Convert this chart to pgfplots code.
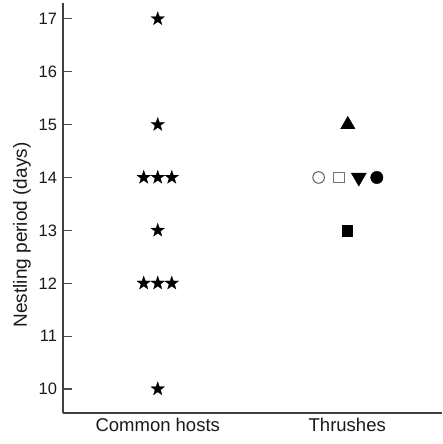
\documentclass[border=0pt]{standalone}
\usepackage{fontspec}
\setmainfont{Liberation Sans}
\usepackage{pgfplots}
\pgfplotsset{compat=1.18}
\pgfdeclareplotmark{fstar}{%
  \pgfpathmoveto{\pgfpointpolar{90}{\pgfplotmarksize}}%
  \pgfpathlineto{\pgfpointpolar{126}{0.40\pgfplotmarksize}}%
  \pgfpathlineto{\pgfpointpolar{162}{\pgfplotmarksize}}%
  \pgfpathlineto{\pgfpointpolar{198}{0.40\pgfplotmarksize}}%
  \pgfpathlineto{\pgfpointpolar{234}{\pgfplotmarksize}}%
  \pgfpathlineto{\pgfpointpolar{270}{0.40\pgfplotmarksize}}%
  \pgfpathlineto{\pgfpointpolar{306}{\pgfplotmarksize}}%
  \pgfpathlineto{\pgfpointpolar{342}{0.40\pgfplotmarksize}}%
  \pgfpathlineto{\pgfpointpolar{18}{\pgfplotmarksize}}%
  \pgfpathlineto{\pgfpointpolar{54}{0.40\pgfplotmarksize}}%
  \pgfpathclose
  \pgfusepathqfillstroke}
\begin{document}
\begin{tikzpicture}
\useasboundingbox (-63pt,-31pt) rectangle (379pt,413pt);
\begin{axis}[
  scale only axis,
  width=379pt, height=410pt,
  at={(0,0)}, anchor=south west,
  xmin=0.5, xmax=2.5,
  ymin=9.546, ymax=17.30,
  axis x line=bottom, axis y line=left,
  axis line style={-, line width=1.3pt, black!75},
  xtick={1,2}, xticklabels={Common hosts, Thrushes},
  ytick={10,11,12,13,14,15,16,17},
  major x tick style={draw=none},
  major y tick style={line width=1.1pt, black!70},
  tick align=inside,
  major tick length=9pt,
  /pgf/number format/assume math mode=true,
  yticklabel style={font=\fontsize{16.5}{18}\selectfont, text=black!90, xshift=-2.5pt},
  xticklabel style={font=\fontsize{18.5}{20}\selectfont, text=black!90, yshift=-2pt},
  clip=false,
]
% Common hosts (stars)
\addplot[only marks, mark=fstar, mark size=7.2pt, mark options={fill=black, draw=black, line width=0.2pt}]
  coordinates {(1,17) (1,15) (0.926,14) (1,14) (1.074,14) (1,13) (0.926,12) (1,12) (1.074,12) (1,10)};
% Thrushes
\addplot[only marks, mark=triangle*, mark size=8.3pt, mark options={fill=black, draw=black}]
  coordinates {(2.003,15)};
\addplot[only marks, mark=o, mark size=5.8pt, mark options={draw=black!70, line width=0.9pt}]
  coordinates {(1.849,14)};
\addplot[only marks, mark=square, mark size=5.4pt, mark options={draw=black!55, line width=0.9pt}]
  coordinates {(1.955,14)};
\addplot[only marks, mark=triangle*, mark size=8.6pt, mark options={fill=black, draw=black, rotate=180}]
  coordinates {(2.061,14)};
\addplot[only marks, mark=*, mark size=6.2pt, mark options={fill=black, draw=black}]
  coordinates {(2.156,14)};
\addplot[only marks, mark=square*, mark size=5.4pt, mark options={fill=black, draw=black}]
  coordinates {(2.0,13)};
\end{axis}
\node[rotate=90, font=\fontsize{19}{21}\selectfont, text=black!90] at (-41pt,178pt) {Nestling period (days)};
\end{tikzpicture}
\end{document}
